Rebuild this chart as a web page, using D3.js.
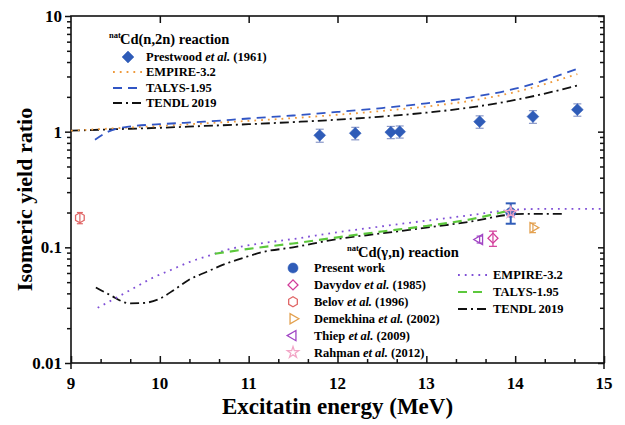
<!DOCTYPE html>
<html>
<head>
<meta charset="utf-8">
<script src="https://cdn.jsdelivr.net/npm/d3@7"></script>
<style>
  html, body { margin: 0; padding: 0; background: #fff; }
  svg { display: block; font-family: "Liberation Serif", "Times New Roman", serif; font-weight: bold; }
</style>
</head>
<body>
<svg id="chart" width="625" height="425"></svg>
<script>
// ---- natCd(n,2n): Prestwood et al. (1961) ----
const prestwoodE   = [11.8, 12.2, 12.6, 12.7, 13.6, 14.2, 14.7];
const prestwoodR   = [0.93, 0.97, 0.99, 1.00, 1.22, 1.35, 1.55];
const prestwoodErr = [0.12, 0.12, 0.12, 0.12, 0.15, 0.17, 0.19];

// ---- natCd(n,2n): model calculations ----
const empireN2nE = [9.0, 9.5, 10, 10.5, 11, 11.5, 12, 12.5, 13, 13.5, 14, 14.7];
const empireN2nR = [1.02, 1.07, 1.12, 1.18, 1.24, 1.31, 1.40, 1.51, 1.65, 1.85, 2.2, 3.15];
const talysN2nE  = [9.27, 9.42, 9.63, 10, 10.5, 11, 11.5, 12, 12.5, 13, 13.5, 14, 14.7];
const talysN2nR  = [0.85, 1.0, 1.1, 1.16, 1.22, 1.30, 1.38, 1.48, 1.60, 1.76, 1.98, 2.35, 3.5];
const tendlN2nE  = [9.0, 9.5, 10, 10.5, 11, 11.5, 12, 12.5, 13, 13.5, 14, 14.7];
const tendlN2nR  = [1.02, 1.05, 1.08, 1.12, 1.16, 1.21, 1.27, 1.35, 1.46, 1.62, 1.88, 2.5];

// ---- natCd(γ,n): measurements ----
const presentE = [13.95], presentR = [0.20], presentErr = [0.04];
const davydovE = [13.75], davydovR = [0.12], davydovErr = [0.018];
const belovE = [9.1], belovR = [0.18], belovErr = [0.02];
const demekhinaE = [14.2], demekhinaR = [0.148], demekhinaErr = [0.014];
const thiepE = [13.6], thiepR = [0.117], thiepErr = [0.008];
const rahmanE = [13.95], rahmanR = [0.2], rahmanErr = [0.01];

// ---- natCd(γ,n): model calculations ----
const empireGnE = [9.30, 9.52, 9.72, 9.93, 10.13, 10.34, 10.54, 10.75, 10.96, 11.13, 11.5, 12, 12.5, 13, 13.5, 13.95, 14.3, 15];
const empireGnR = [0.030, 0.037, 0.045, 0.055, 0.064, 0.075, 0.084, 0.095, 0.103, 0.108, 0.118, 0.135, 0.152, 0.17, 0.19, 0.21, 0.215, 0.215];
const talysGnE  = [10.62, 11, 11.5, 12, 12.5, 13, 13.5, 13.9];
const talysGnR  = [0.088, 0.097, 0.108, 0.122, 0.137, 0.153, 0.175, 0.205];
const tendlGnE  = [9.28, 9.44, 9.66, 9.81, 10.0, 10.17, 10.32, 10.53, 10.76, 10.98, 11.13, 11.5, 12, 12.5, 13, 13.5, 13.9, 14.1, 14.55];
const tendlGnR  = [0.045, 0.0387, 0.0328, 0.033, 0.036, 0.0434, 0.052, 0.0615, 0.073, 0.083, 0.09, 0.1, 0.118, 0.132, 0.148, 0.167, 0.19, 0.195, 0.195];

// ---- axes ----
const xTicks = [9, 10, 11, 12, 13, 14, 15];
const yTicks = [0.01, 0.1, 1, 10];
const yTickLabels = ["0.01", "0.1", "1", "10"];
const xTitle = "Excitatin energy (MeV)";
const yTitle = "Isomeric yield ratio";

const svg = d3.select("#chart");
const L = 71, R = 604, T = 16, B = 363;
const x = d3.scaleLinear().domain([9, 15]).range([L, R]);
const y = d3.scaleLog().domain([0.01, 10]).range([B, T]);

const C = {
  pres: "#2f5cb8", empN2n: "#ee9a3c", talN2n: "#3155c4", black: "#111",
  empGn: "#7f4fd6", talGn: "#5cc83c", davy: "#d23c9a", belov: "#e06666",
  demek: "#e3a04e", thiep: "#a044c4", rahman: "#f2a6c6", errP: "#8a98c8"
};

// ---- frame and ticks ----
const frame = svg.append("g").attr("stroke", "#111").attr("stroke-width", 1.6);
frame.append("rect").attr("x", L).attr("y", T).attr("width", R - L).attr("height", B - T).attr("fill", "none");

const xMinor = d3.range(9, 15.001, 1 / 3).filter(v => Math.abs(v - Math.round(v)) > 0.01);
const axBottom = svg.append("g").attr("transform", `translate(0,${B})`)
  .call(d3.axisBottom(x).tickValues(xTicks).tickSizeInner(-7).tickSizeOuter(0).tickFormat(""));
const axBottomMinor = svg.append("g").attr("transform", `translate(0,${B})`)
  .call(d3.axisBottom(x).tickValues(xMinor).tickSizeInner(-4).tickSizeOuter(0).tickFormat(""));
const axTop = svg.append("g").attr("transform", `translate(0,${T})`)
  .call(d3.axisTop(x).tickValues(xTicks.slice(1, -1)).tickSizeInner(-7).tickSizeOuter(0).tickFormat(""));

const yMinor = [];
[0.01, 0.1, 1].forEach(d => { for (let k = 2; k <= 9; k++) yMinor.push(d * k); });
const axLeft = svg.append("g").attr("transform", `translate(${L},0)`)
  .call(d3.axisLeft(y).tickValues(yTicks).tickSizeInner(6).tickSizeOuter(0).tickFormat(""));
const axLeftMinor = svg.append("g").attr("transform", `translate(${L},0)`)
  .call(d3.axisLeft(y).tickValues(yMinor).tickSizeInner(4).tickSizeOuter(0).tickFormat(""));
const axRight = svg.append("g").attr("transform", `translate(${R},0)`)
  .call(d3.axisLeft(y).tickValues(yTicks).tickSizeInner(6).tickSizeOuter(0).tickFormat(""));
const axRightMinor = svg.append("g").attr("transform", `translate(${R},0)`)
  .call(d3.axisLeft(y).tickValues(yMinor).tickSizeInner(4).tickSizeOuter(0).tickFormat(""));
[axBottom, axBottomMinor, axTop, axLeft, axLeftMinor, axRight, axRightMinor].forEach(g => {
  g.select(".domain").remove();
  g.selectAll("line").attr("stroke", "#111").attr("stroke-width", 1.5);
});
// end ticks at 9 and 15 hang below the frame
svg.append("g").selectAll("line").data([9, 15]).join("line")
  .attr("x1", d => x(d)).attr("x2", d => x(d)).attr("y1", B).attr("y2", B + 6)
  .attr("stroke", "#111").attr("stroke-width", 1.5);

// tick labels
svg.append("g").selectAll("text").data(xTicks).join("text")
  .attr("x", d => x(d)).attr("y", 389).attr("text-anchor", "middle")
  .attr("font-size", 17).text(d => d);
svg.append("g").selectAll("text").data(yTicks).join("text")
  .attr("x", 62).attr("y", d => y(d)).attr("dy", "0.35em").attr("text-anchor", "end")
  .attr("font-size", 17).text((d, i) => yTickLabels[i]);

// axis titles
svg.append("text").attr("x", (L + R) / 2).attr("y", 414).attr("text-anchor", "middle")
  .attr("font-size", 23).text(xTitle);
svg.append("text").attr("transform", `translate(32,${(T + B) / 2 + 10}) rotate(-90)`)
  .attr("text-anchor", "middle").attr("font-size", 22).text(yTitle);

// ---- curves ----
const line = d3.line().x(d => x(d[0])).y(d => y(d[1])).curve(d3.curveMonotoneX);
const zip = (a, b) => a.map((v, i) => [v, b[i]]);
const plot = svg.append("g");
function curve(E, Rv, color, dash, width) {
  plot.append("path").datum(zip(E, Rv)).attr("d", line)
    .attr("fill", "none").attr("stroke", color).attr("stroke-width", width || 1.8)
    .attr("stroke-dasharray", dash).attr("stroke-linecap", "butt");
}
const DOT = "1.8,5", DASH = "9,6", DASHDOT = "9,4,2,4";
curve(tendlN2nE, tendlN2nR, C.black, DASHDOT);
curve(empireN2nE, empireN2nR, C.empN2n, DOT);
curve(talysN2nE, talysN2nR, C.talN2n, DASH);
curve(tendlGnE, tendlGnR, C.black, DASHDOT);
curve(empireGnE, empireGnR, C.empGn, DOT);
curve(talysGnE, talysGnR, C.talGn, DASH, 2.2);

// ---- markers ----
function hexPath(r) {
  const pts = d3.range(6).map(i => [r * Math.cos(Math.PI / 6 + i * Math.PI / 3), r * Math.sin(Math.PI / 6 + i * Math.PI / 3)]);
  return d3.line()(pts) + "Z";
}
const shapes = {
  diamond: { d: d3.symbol(d3.symbolSquare, 70)(), rot: 45 },
  circle: { d: d3.symbol(d3.symbolCircle, 80)(), rot: 0 },
  odiamond: { d: d3.symbol(d3.symbolSquare, 50)(), rot: 45 },
  hex: { d: hexPath(5), rot: 0 },
  tright: { d: d3.symbol(d3.symbolTriangle, 45)(), rot: 90 },
  tleft: { d: d3.symbol(d3.symbolTriangle, 45)(), rot: -90 },
  star: { d: d3.symbol(d3.symbolStar, 40)(), rot: 0 }
};
function errorBars(E, Rv, Er, color, cap, width) {
  const g = plot.append("g").attr("stroke", color).attr("stroke-width", width || 1.2);
  const data = E.map((e, i) => ({ e, lo: Rv[i] - Er[i], hi: Rv[i] + Er[i] }));
  g.selectAll(".v").data(data).join("line")
    .attr("x1", d => x(d.e)).attr("x2", d => x(d.e)).attr("y1", d => y(d.lo)).attr("y2", d => y(d.hi));
  ["lo", "hi"].forEach(k => g.selectAll(".c" + k).data(data).join("line")
    .attr("x1", d => x(d.e) - cap).attr("x2", d => x(d.e) + cap).attr("y1", d => y(d[k])).attr("y2", d => y(d[k])));
}
function markers(E, Rv, shape, color, filled) {
  const s = shapes[shape];
  plot.append("g").selectAll("path").data(zip(E, Rv)).join("path")
    .attr("d", s.d)
    .attr("transform", d => `translate(${x(d[0])},${y(d[1])}) rotate(${s.rot})`)
    .attr("fill", filled ? color : "none").attr("stroke", color).attr("stroke-width", filled ? 0.5 : 1.3);
}
errorBars(prestwoodE, prestwoodR, prestwoodErr, C.errP, 4);
markers(prestwoodE, prestwoodR, "diamond", C.pres, true);
errorBars(belovE, belovR, belovErr, C.belov, 3);
markers(belovE, belovR, "hex", C.belov, false);
errorBars(davydovE, davydovR, davydovErr, C.davy, 4);
markers(davydovE, davydovR, "odiamond", C.davy, false);
errorBars(demekhinaE, demekhinaR, demekhinaErr, C.demek, 3);
markers(demekhinaE, demekhinaR, "tright", C.demek, false);
errorBars(thiepE, thiepR, thiepErr, C.thiep, 3);
markers(thiepE, thiepR, "tleft", C.thiep, false);
errorBars(presentE, presentR, presentErr, C.pres, 5, 2);
markers(presentE, presentR, "circle", C.pres, true);
errorBars(rahmanE, rahmanR, rahmanErr, C.rahman, 3);
markers(rahmanE, rahmanR, "star", C.rahman, false);

// ---- legends ----
const leg = svg.append("g").attr("font-size", 12.5);
function legTitle(gx, gy, body) {
  leg.append("text").attr("x", gx).attr("y", gy - 6).attr("font-size", 8.5).text("nat");
  leg.append("text").attr("x", gx + 11).attr("y", gy).attr("font-size", 14.5).text(body);
}
function legText(tx, ty, parts) {
  const t = leg.append("text").attr("x", tx).attr("y", ty).attr("dy", "0.35em");
  parts.forEach(p => t.append("tspan").attr("font-style", p[1] ? "italic" : null).text(p[0]));
}
function legLine(x1, x2, ly, color, dash, width) {
  leg.append("line").attr("x1", x1).attr("x2", x2).attr("y1", ly).attr("y2", ly)
    .attr("stroke", color).attr("stroke-width", width || 1.8).attr("stroke-dasharray", dash);
}
function legMark(mx, my, shape, color, filled) {
  const s = shapes[shape];
  leg.append("path").attr("d", s.d).attr("transform", `translate(${mx},${my}) rotate(${s.rot})`)
    .attr("fill", filled ? color : "none").attr("stroke", color).attr("stroke-width", filled ? 0.5 : 1.3);
}

// natCd(n,2n) block
legTitle(109, 44, "Cd(n,2n) reaction");
legMark(128, 57, "diamond", C.pres, true);
legText(146, 57, [["Prestwood "], ["et al.", true], ["  (1961)"]]);
legLine(113, 143, 72, C.empN2n, DOT);
legText(146, 72, [["EMPIRE-3.2"]]);
legLine(113, 139, 88, C.talN2n, DASH);
legText(146, 88, [["TALYS-1.95"]]);
legLine(113, 143, 103, C.black, DASHDOT);
legText(146, 103, [["TENDL 2019"]]);

// natCd(γ,n) block
legTitle(347, 257, "Cd(γ,n) reaction");
const gnItems = [
  ["circle", C.pres, true, [["Present work"]]],
  ["odiamond", C.davy, false, [["Davydov "], ["et al.", true], [" (1985)"]]],
  ["hex", C.belov, false, [["Belov "], ["et al.", true], [" (1996)"]]],
  ["tright", C.demek, false, [["Demekhina "], ["et al.", true], [" (2002)"]]],
  ["tleft", C.thiep, false, [["Thiep "], ["et al.", true], [" (2009)"]]],
  ["star", C.rahman, false, [["Rahman "], ["et al.", true], [" (2012)"]]]
];
gnItems.forEach((it, i) => {
  const ly = 268 + i * 16.9;
  legMark(293, ly, it[0], it[1], it[2]);
  legText(314, ly, it[3]);
});
legLine(458, 488, 275, C.empGn, DOT);
legText(493, 275, [["EMPIRE-3.2"]]);
legLine(458, 486, 292, C.talGn, DASH, 2.2);
legText(493, 292, [["TALYS-1.95"]]);
legLine(458, 488, 309, C.black, DASHDOT);
legText(493, 309, [["TENDL 2019"]]);
</script>
</body>
</html>
